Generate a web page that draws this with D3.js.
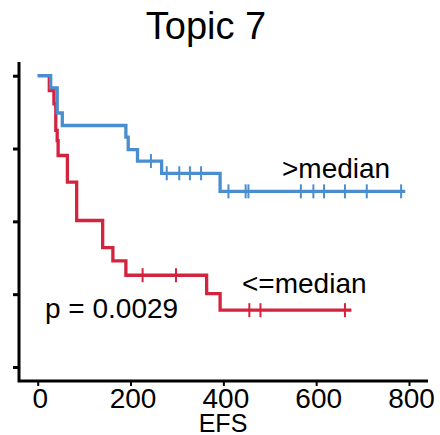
<!DOCTYPE html>
<html>
<head>
<meta charset="utf-8">
<script src="https://cdn.jsdelivr.net/npm/d3@7/dist/d3.min.js"></script>
<style>
  body { margin: 0; background: #fff; }
  text { font-family: "Liberation Sans", Arial, Helvetica, sans-serif; fill: #000; }
</style>
</head>
<body>
<div id="chart"></div>
<script>
// Kaplan-Meier steps
const highTimes = [0, 28, 42, 53, 190, 195, 215, 267, 393];
const highSurv = [1, 0.958, 0.872, 0.829, 0.789, 0.746, 0.707, 0.665, 0.603];
const highEnd = 792;
const highCensor = [244, 278, 305, 328, 352, 411, 448, 454, 567, 594, 617, 662, 709, 783];

const lowTimes = [0, 25, 35, 39, 42, 44, 64, 84, 140, 162, 190, 364, 393];
const lowSurv = [1, 0.949, 0.903, 0.812, 0.777, 0.726, 0.635, 0.503, 0.41, 0.364, 0.315, 0.252, 0.195];
const lowEnd = 676;
const lowCensor = [226, 298, 456, 480, 662];

const xTicks = [0, 200, 400, 600, 800];
const yTicks = [0, 0.25, 0.5, 0.75, 1];

const width = 440;
const height = 435;

const svg = d3.select("#chart")
    .append("svg")
    .attr("width", width)
    .attr("height", height);

const xScale = d3.scaleLinear()
    .domain([0, 800])
    .range([37.7, 409]);

const yScale = d3.scaleLinear()
    .domain([0, 1])
    .range([367, 75.7]);

const axisX = 19;
const axisY = 381;

// L shaped frame
svg.append("path")
    .attr("d", `M${axisX},62 V${axisY} H428`)
    .attr("fill", "none")
    .attr("stroke", "#000")
    .attr("stroke-width", 3);

const yAxis = svg.append("g")
    .attr("transform", `translate(${axisX},0)`)
    .call(d3.axisLeft(yScale).tickValues(yTicks).tickFormat("").tickSize(6));
yAxis.select(".domain").remove();
yAxis.selectAll("line").attr("stroke-width", 3);

const xAxis = svg.append("g")
    .attr("transform", `translate(0,${axisY})`)
    .call(d3.axisBottom(xScale).tickValues(xTicks).tickSize(5).tickPadding(2));
xAxis.select(".domain").remove();
xAxis.selectAll("line").attr("stroke-width", 2);
xAxis.selectAll("text")
    .attr("font-size", 28)
    .attr("dx", 2)
    .style("font-family", "'Liberation Sans', Arial, sans-serif");

function stepPoints(times, surv, end) {
    const pts = times.map(function(t, i) { return [t, surv[i]]; });
    pts.push([end, surv[surv.length - 1]]);
    return pts;
}

function survAt(times, surv, t) {
    const i = d3.bisectRight(times, t) - 1;
    return surv[Math.max(i, 0)];
}

const line = d3.line()
    .x(function(d) { return xScale(d[0]); })
    .y(function(d) { return yScale(d[1]); })
    .curve(d3.curveStepAfter);

const groups = [
    {name: "low", times: lowTimes, surv: lowSurv, end: lowEnd, censor: lowCensor, color: "#d2233f"},
    {name: "high", times: highTimes, surv: highSurv, end: highEnd, censor: highCensor, color: "#4a8ecf"}
];

groups.forEach(function(g) {
    svg.append("path")
        .datum(stepPoints(g.times, g.surv, g.end))
        .attr("fill", "none")
        .attr("stroke", g.color)
        .attr("stroke-width", 3.3)
        .attr("d", line);

    svg.selectAll(".cens-" + g.name)
        .data(g.censor)
        .enter()
        .append("line")
            .attr("class", "cens-" + g.name)
            .attr("x1", function(d) { return xScale(d); })
            .attr("x2", function(d) { return xScale(d); })
            .attr("y1", function(d) { return yScale(survAt(g.times, g.surv, d)) - 7; })
            .attr("y2", function(d) { return yScale(survAt(g.times, g.surv, d)) + 7; })
            .attr("stroke", g.color)
            .attr("stroke-width", 2);
});

svg.append("text")
    .attr("x", 206)
    .attr("y", 39)
    .attr("font-size", 38)
    .style("text-anchor", "middle")
    .text("Topic 7");

svg.append("text")
    .attr("x", 282)
    .attr("y", 178)
    .attr("font-size", 28)
    .text(">median");

svg.append("text")
    .attr("x", 242)
    .attr("y", 293)
    .attr("font-size", 28)
    .text("<=median");

svg.append("text")
    .attr("x", 45)
    .attr("y", 318)
    .attr("font-size", 28)
    .text("p = 0.0029");

svg.append("text")
    .attr("x", 223)
    .attr("y", 432)
    .attr("font-size", 25)
    .style("text-anchor", "middle")
    .text("EFS");
</script>
</body>
</html>
